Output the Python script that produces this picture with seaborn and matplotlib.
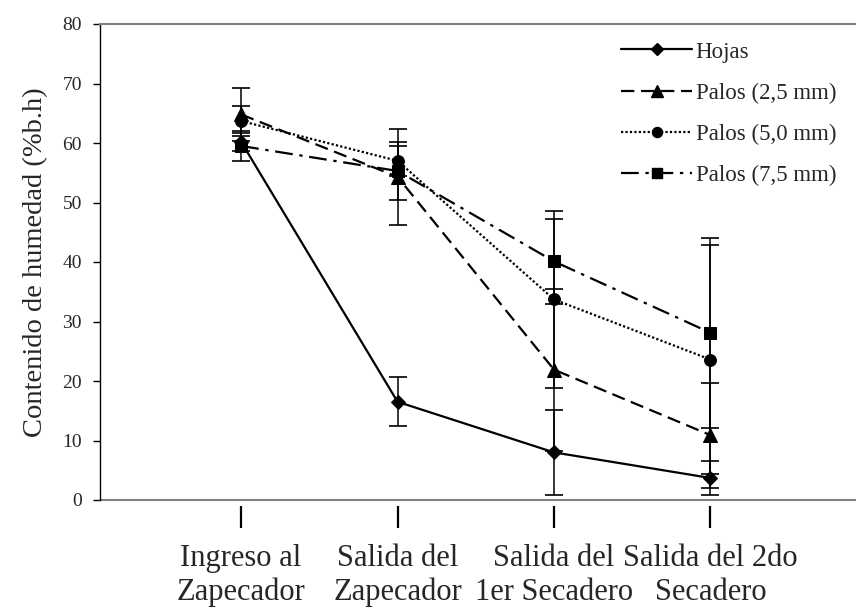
import numpy as np
import pandas as pd
import matplotlib
matplotlib.use("Agg")
import matplotlib.pyplot as plt
import seaborn as sns
from matplotlib.legend_handler import HandlerLine2D
from matplotlib.lines import Line2D

# ---- data ----
stages = ["Ingreso al\nZapecador", "Salida del\nZapecador",
          "Salida del\n1er Secadero", "Salida del 2do\nSecadero"]
series_names = ["Hojas", "Palos (2,5 mm)", "Palos (5,0 mm)", "Palos (7,5 mm)"]
hojas = [60.2, 16.5, 8.0, 3.7]
palos_25 = [64.8, 54.3, 21.9, 10.9]
palos_50 = [63.7, 57.0, 33.7, 23.6]
palos_75 = [59.5, 55.3, 40.1, 28.1]
err_hojas = [1.5, 4.1, 7.1, 2.8]
err_25 = [4.4, 8.0, 13.6, 8.8]
err_50 = [2.5, 2.5, 14.9, 19.2]
err_75 = [2.5, 4.8, 7.2, 16.0]
y_ticks = [0, 10, 20, 30, 40, 50, 60, 70, 80]

values = [hojas, palos_25, palos_50, palos_75]
errors = [err_hojas, err_25, err_50, err_75]

# ---- styles ----
markers = ["D", "^", "o", "s"]
msizes = [7.5, 9.5, 8.5, 8.5]
linestyles = ["-", (0, (6, 3)), (0, (1, 1)), (0, (8, 3, 1.5, 3))]

plt.rcParams["font.family"] = ["Liberation Serif", "DejaVu Serif"]
sns.set_style("white")
plt.rcParams["font.family"] = ["Liberation Serif", "DejaVu Serif"]

fig = plt.figure(figsize=(8.56, 6.11), dpi=100)
ax = fig.add_axes([100 / 856, 1 - 500 / 611, 756 / 856, 476 / 611])

xpos = np.arange(len(stages))
rows = []
for name, vals, errs in zip(series_names, values, errors):
    for st, v, e in zip(stages, vals, errs):
        rows.append({"stage": st, "serie": name, "value": v, "err": e})
df = pd.DataFrame(rows)

handles = []
for i, name in enumerate(series_names):
    sub = df[df["serie"] == name]
    ax.errorbar(xpos, sub["value"].values, yerr=sub["err"].values, fmt="none",
                ecolor="black", elinewidth=1.1, capsize=6.5, capthick=1.2, zorder=2)
    sns.lineplot(data=sub, x="stage", y="value", ax=ax, color="black",
                 linestyle=linestyles[i], linewidth=1.6, marker=markers[i],
                 markersize=msizes[i], markeredgecolor="black",
                 markerfacecolor="black", sort=False, legend=False, zorder=3)
    handles.append(Line2D([], [], color="black", linestyle=linestyles[i],
                          linewidth=1.6, marker=markers[i],
                          markersize=msizes[i] * 0.85, label=name))


class EndMarkerHandler(HandlerLine2D):
    def get_xdata(self, legend, xdescent, ydescent, width, height, fontsize):
        xdata = np.array([-xdescent, -xdescent + width])
        xmark = np.array([-xdescent + width])
        return xdata, xmark


leg = ax.legend(handles=handles, loc="upper right", bbox_to_anchor=(0.995, 0.997),
                frameon=False, fontsize=16.5, handlelength=3.1, handletextpad=0.15,
                labelspacing=0.88, borderaxespad=0.3,
                handler_map={h: EndMarkerHandler(numpoints=1) for h in handles})

ax.set_xlim(-0.902, 3.93)
ax.set_ylim(0, 80)
ax.set_yticks(y_ticks)
ax.set_xticks(xpos)
ax.set_xticklabels(stages)
ax.set_xlabel("")
ax.set_ylabel("Contenido de humedad (%b.h)", fontsize=20.5, labelpad=10)
ax.tick_params(axis="y", which="both", left=True, direction="out", length=5,
               width=1.0, labelsize=14, pad=8, color="black")
ax.tick_params(axis="x", which="both", bottom=True, direction="out", length=16,
               width=1.6, pad=12, color="black", labelsize=22)
for lab in ax.get_xticklabels():
    lab.set_fontsize(22)
    lab.set_linespacing(1.12)

ax.spines["right"].set_visible(False)
ax.spines["top"].set_color("#808080")
ax.spines["top"].set_linewidth(1.5)
ax.spines["left"].set_color("black")
ax.spines["left"].set_linewidth(1.0)
ax.spines["bottom"].set_position(("outward", 4))
ax.spines["bottom"].set_visible(False)
ax.axhline(0, color="#808080", linewidth=1.5, zorder=1, clip_on=False)
ax.grid(False)

fig.savefig("out.png", dpi=100)
